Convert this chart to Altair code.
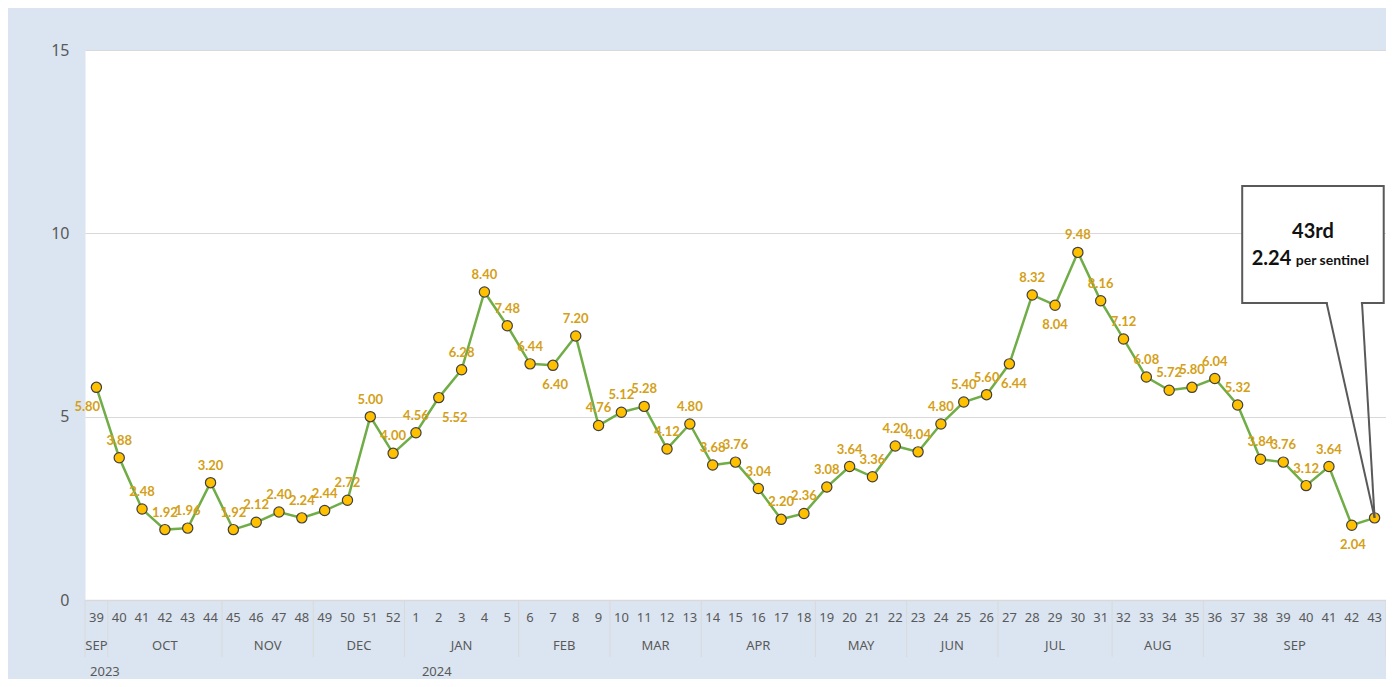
import altair as alt
import pandas as pd

# ---------------- data ----------------
weeks_2023 = ["39", "40", "41", "42", "43", "44", "45", "46", "47", "48", "49", "50", "51", "52"]
values_2023 = [5.80, 3.88, 2.48, 1.92, 1.96, 3.20, 1.92, 2.12, 2.40, 2.24, 2.44, 2.72, 5.00, 4.00]
weeks_2024 = ["1", "2", "3", "4", "5", "6", "7", "8", "9", "10", "11", "12", "13", "14", "15",
              "16", "17", "18", "19", "20", "21", "22", "23", "24", "25", "26", "27", "28", "29",
              "30", "31", "32", "33", "34", "35", "36", "37", "38", "39", "40", "41", "42", "43"]
values_2024 = [4.56, 5.52, 6.28, 8.40, 7.48, 6.44, 6.40, 7.20, 4.76, 5.12, 5.28, 4.12, 4.80,
               3.68, 3.76, 3.04, 2.20, 2.36, 3.08, 3.64, 3.36, 4.20, 4.04, 4.80, 5.40, 5.60,
               6.44, 8.32, 8.04, 9.48, 8.16, 7.12, 6.08, 5.72, 5.80, 6.04, 5.32, 3.84, 3.76,
               3.12, 3.64, 2.04, 2.24]
months = ["SEP", "OCT", "NOV", "DEC", "JAN", "FEB", "MAR", "APR", "MAY", "JUN", "JUL", "AUG", "SEP"]
month_week_counts = [1, 5, 4, 4, 5, 4, 4, 5, 4, 4, 5, 4, 8]
years = ["2023", "2024"]
callout_title = "43rd"
callout_unit = "per sentinel"

# ---------------- styling / annotation placement ----------------
below_labels = {0: -0.4, 15: 0.7, 20: 0.1, 40: 0.2, 42: 0.0, 55: 0.05}  # index -> x shift
year_label_x = [-0.28, 14.26]
box = dict(x0=50.2, x1=56.4, y0=8.10, y1=11.29)
pointer_base = [53.9, 55.45]

week_labels = weeks_2023 + weeks_2024
values = values_2023 + values_2024
n = len(values)
idx = list(range(n))

df = pd.DataFrame({"i": idx, "week": week_labels, "v": values})
df["label"] = df["v"].map(lambda v: f"{v:.2f}")
df["side"] = ["below" if i in below_labels else "above" for i in idx]
df["lx"] = [i + below_labels.get(i, 0.0) for i in idx]
lab_df = df.iloc[:-1]  # last point is described by the callout

# month groups
starts = []
s = 0
for c in month_week_counts:
    starts.append(s)
    s += c
month_df = pd.DataFrame({"m": months, "c": [st + (c - 1) / 2 for st, c in zip(starts, month_week_counts)]})
bounds = [-0.5] + [st + c - 0.5 for st, c in zip(starts, month_week_counts)]
sep_df = pd.DataFrame({"b": bounds})
year_df = pd.DataFrame({"y": years, "x": year_label_x})

W, H = 1301, 550
xscale = alt.Scale(domain=[-0.5, n - 0.5], nice=False, zero=False)
yscale = alt.Scale(domain=[0, 15], nice=False)

base = alt.Chart(df)

line = base.mark_line(color="#70AD47", strokeWidth=2.5).encode(
    x=alt.X("i:Q", scale=xscale,
            axis=alt.Axis(labels=False, title=None, grid=False, ticks=False, domain=True,
                          domainColor="#d9d9d9", domainWidth=1.5)),
    y=alt.Y("v:Q", scale=yscale,
            axis=alt.Axis(values=[0, 5, 10, 15], title=None, ticks=False, domain=False,
                          gridColor="#d9d9d9", gridWidth=1, labelFontSize=16,
                          labelColor="#595959", labelFont="Noto Sans", labelPadding=16)),
)

points = base.mark_circle(size=105, color="#FFC000", opacity=1, stroke="#404040",
                          strokeWidth=1.2).encode(x=alt.X("i:Q", scale=xscale),
                                                  y=alt.Y("v:Q", scale=yscale))

week_text = base.mark_text(font="Noto Sans", fontSize=13, color="#595959",
                           baseline="middle").encode(
    x=alt.X("i:Q", scale=xscale), y=alt.value(H + 18), text="week:N")

lab_above = alt.Chart(lab_df).transform_filter("datum.side == 'above'").mark_text(
    font="Lato", fontWeight="bold", fontSize=13, color="#D4A017", dy=-17
).encode(x=alt.X("lx:Q", scale=xscale), y=alt.Y("v:Q", scale=yscale), text="label:N")

lab_below = alt.Chart(lab_df).transform_filter("datum.side == 'below'").mark_text(
    font="Lato", fontWeight="bold", fontSize=13, color="#D4A017", dy=20
).encode(x=alt.X("lx:Q", scale=xscale), y=alt.Y("v:Q", scale=yscale), text="label:N")

month_text = alt.Chart(month_df).mark_text(
    font="Noto Sans", fontSize=13, color="#595959", baseline="middle"
).encode(x=alt.X("c:Q", scale=xscale), y=alt.value(H + 46), text="m:N")

year_text = alt.Chart(year_df).mark_text(
    font="Noto Sans", fontSize=13, color="#595959", baseline="middle", align="left"
).encode(x=alt.X("x:Q", scale=xscale), y=alt.value(H + 72), text="y:N")

seps = alt.Chart(sep_df).mark_rule(color="#d9d9d9", strokeWidth=1).encode(
    x=alt.X("b:Q", scale=xscale), y=alt.value(H), y2=alt.value(H + 57))

# callout
box_df = pd.DataFrame([box])
box_mark = alt.Chart(box_df).mark_rect(fill="white", stroke="#595959", strokeWidth=2).encode(
    x=alt.X("x0:Q", scale=xscale), x2="x1:Q", y=alt.Y("y0:Q", scale=yscale), y2="y1:Q")

gap_df = pd.DataFrame({"a": [pointer_base[0] + 0.05], "b": [pointer_base[1] - 0.05], "y": [box["y0"]]})
gap = alt.Chart(gap_df).mark_rule(color="white", strokeWidth=4).encode(
    x=alt.X("a:Q", scale=xscale), x2="b:Q", y=alt.Y("y:Q", scale=yscale))

ptr_df = pd.DataFrame({"x": pointer_base, "y": [box["y0"]] * 2,
                       "x2": [n - 1] * 2, "y2": [values[-1]] * 2})
ptr = alt.Chart(ptr_df).mark_rule(color="#595959", strokeWidth=2).encode(
    x=alt.X("x:Q", scale=xscale), y=alt.Y("y:Q", scale=yscale), x2="x2:Q", y2="y2:Q")

cx = (box["x0"] + box["x1"]) / 2
ct_df = pd.DataFrame({"x": [cx], "y": [box["y1"] - 1.25], "t": [callout_title]})
ct = alt.Chart(ct_df).mark_text(font="Lato", fontWeight="bold", fontSize=20, color="#111111",
                                baseline="middle").encode(
    x=alt.X("x:Q", scale=xscale), y=alt.Y("y:Q", scale=yscale), text="t:N")

cv_df = pd.DataFrame({"x": [cx - 0.95], "y": [box["y1"] - 2.0], "t": [f"{values[-1]:.2f}"]})
cv = alt.Chart(cv_df).mark_text(font="Lato", fontWeight="bold", fontSize=20, color="#111111",
                                baseline="middle", align="right").encode(
    x=alt.X("x:Q", scale=xscale), y=alt.Y("y:Q", scale=yscale), text="t:N")

cu_df = pd.DataFrame({"x": [cx - 0.75], "y": [box["y1"] - 2.0], "t": [callout_unit]})
cu = alt.Chart(cu_df).mark_text(font="Lato", fontWeight="bold", fontSize=14, color="#111111",
                                baseline="middle", align="left", dy=1.5).encode(
    x=alt.X("x:Q", scale=xscale), y=alt.Y("y:Q", scale=yscale), text="t:N")

chart = alt.layer(
    seps, line, points, week_text, lab_above, lab_below, month_text, year_text,
    box_mark, gap, ptr, ct, cv, cu
).properties(
    width=W, height=H,
    autosize=alt.AutoSizeParams(type="none"),
    padding={"left": 77, "top": 42, "right": 0, "bottom": 79},
    background="#dbe5f1",
).configure_view(fill="white", stroke="transparent")

chart.save("out.html", embed_options={"renderer": "svg", "actions": False})
